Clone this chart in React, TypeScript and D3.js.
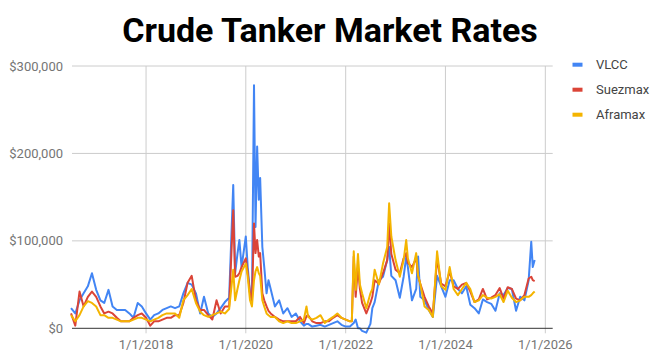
import React from "react";
import * as d3 from "d3";

const dates = [
  "2016-07-01","2016-08-01","2016-09-01","2016-10-01","2016-11-01","2016-12-01",
  "2017-01-01","2017-02-01","2017-03-01","2017-04-01","2017-05-01","2017-06-01",
  "2017-07-01","2017-08-01","2017-09-01","2017-10-01","2017-11-01","2017-12-01",
  "2018-01-01","2018-02-01","2018-03-01","2018-04-01","2018-05-01","2018-06-01",
  "2018-07-01","2018-08-01","2018-09-01","2018-10-01","2018-11-01","2018-12-01",
  "2019-01-01","2019-02-01","2019-03-01","2019-04-01","2019-05-01","2019-06-01",
  "2019-07-01","2019-08-01","2019-09-01","2019-10-01","2019-10-15","2019-11-01",
  "2019-11-15","2019-12-01","2020-01-01","2020-01-15","2020-02-01","2020-02-15",
  "2020-03-01","2020-03-12","2020-03-24","2020-04-05","2020-04-15","2020-05-01",
  "2020-05-15","2020-06-01","2020-06-15","2020-07-01","2020-08-01","2020-09-01",
  "2020-10-01","2020-11-01","2020-12-01","2021-01-01","2021-02-01","2021-03-01",
  "2021-03-20","2021-04-01","2021-05-01","2021-06-01","2021-07-01","2021-08-01",
  "2021-09-01","2021-10-01","2021-11-01","2021-12-01","2022-01-01","2022-02-01",
  "2022-02-15","2022-03-01","2022-03-15","2022-04-01","2022-04-15","2022-05-01",
  "2022-06-01","2022-07-01","2022-07-15","2022-08-01","2022-09-01","2022-10-01",
  "2022-11-01","2022-11-15","2022-12-01","2023-01-01","2023-02-01","2023-03-01",
  "2023-03-20","2023-04-01","2023-05-01","2023-06-01","2023-06-15","2023-07-01",
  "2023-08-01","2023-09-01","2023-10-01","2023-11-01","2023-12-01","2024-01-01",
  "2024-02-01","2024-03-01","2024-04-01","2024-05-01","2024-06-01","2024-07-01",
  "2024-08-01","2024-09-01","2024-10-01","2024-11-01","2024-12-01","2025-01-01",
  "2025-02-01","2025-03-01","2025-04-01","2025-05-01","2025-06-01","2025-07-01",
  "2025-08-01","2025-09-01","2025-09-20","2025-10-01","2025-10-15",
];

// values in thousands of USD/day
const vlcc = [
  23,17,32,40,48,63,
  44,32,29,44,25,21,
  21,21,17,12,29,25,
  17,10,15,17,21,23,
  25,23,25,40,52,50,
  40,17,36,17,13,17,
  23,30,35,164,63,85,
  101,70,105,70,40,32,
  278,116,208,147,172,93,
  70,40,55,45,25,32,
  17,23,13,17,8,3,
  5,5,2,3,4,2,
  4,6,8,4,2,2,
  4,6,10,0,0,-3,
  -5,5,23,30,55,59,
  78,93,60,55,35,59,
  82,70,32,45,82,36,
  32,21,13,60,48,36,
  55,55,45,40,48,27,
  23,17,33,30,28,20,
  40,38,46,45,20,36,
  32,55,99,70,78,
];

const suezmax = [
  17,3,42,25,36,42,
  36,25,17,19,17,12,
  8,8,8,12,15,17,
  12,3,8,8,10,12,
  12,15,15,29,52,60,
  32,21,21,15,10,32,
  17,25,25,135,59,60,
  63,70,80,63,40,32,
  120,86,101,82,86,40,
  32,25,20,17,13,10,
  8,8,8,8,13,6,
  14,15,8,6,6,8,
  8,12,15,12,10,8,
  8,82,36,70,45,29,
  17,29,36,55,51,63,
  78,120,85,67,63,80,
  86,75,70,80,60,51,
  36,25,17,80,51,48,
  65,48,45,50,52,42,
  30,33,45,33,35,38,
  46,34,47,45,34,32,
  38,57,59,55,54,
];

const aframax = [
  15,8,15,25,31,29,
  25,15,15,12,12,10,
  8,8,8,10,12,12,
  10,8,10,12,15,17,
  17,17,12,32,38,45,
  29,19,15,13,15,17,
  19,17,22,67,32,45,
  55,65,74,59,32,25,
  55,65,70,63,60,32,
  25,17,15,13,13,8,
  6,8,6,6,8,10,
  25,13,10,12,15,6,
  10,13,17,12,10,8,
  8,88,44,85,50,40,
  23,40,45,67,50,74,
  93,143,105,78,59,78,
  101,80,63,86,60,51,
  25,21,13,88,48,44,
  70,45,38,45,52,45,
  30,32,38,35,34,36,
  39,30,43,35,30,32,
  36,36,38,40,42,
];

const seriesNames = ["VLCC", "Suezmax", "Aframax"];
const seriesColors = ["#4285F4", "#DB4437", "#F4B400"];
const yTicks = [0, 100000, 200000, 300000];
const xTickYears = [2018, 2020, 2022, 2024, 2026];

const W = 660;
const H = 358;
const L = 72;
const R = 552.7;
const T = 66;
const B = 328.3;

export default function App() {
  const parse = d3.timeParse("%Y-%m-%d");
  const ds = dates.map((d) => parse(d) as Date);
  const x = d3
    .scaleTime()
    .domain([new Date(2016, 6, 8), new Date(2026, 1, 24)])
    .range([L, R]);
  const y = d3.scaleLinear().domain([0, 300000]).range([B, T]);
  const fmt = (v: number) => "$" + d3.format(",")(v);
  const all = [vlcc, suezmax, aframax];
  const line = d3
    .line<[Date, number]>()
    .x((d) => x(d[0]))
    .y((d) => y(d[1] * 1000));

  const font = "Roboto, Arial, sans-serif";

  return (
    <svg width={W} height={H} style={{ position: "absolute", left: 0, top: 0, background: "#fff" }}>
      <rect x={0} y={0} width={W} height={H} fill="#fff" />
      <text
        x={330}
        y={42}
        textAnchor="middle"
        fontFamily={font}
        fontWeight={700}
        fontSize={34}
        fill="#000"
      >
        Crude Tanker Market Rates
      </text>
      {/* horizontal gridlines */}
      {yTicks.map((t) => (
        <line key={"gy" + t} x1={L} x2={R} y1={y(t)} y2={y(t)} stroke={t === 0 ? "none" : "#cccccc"} strokeWidth={1} />
      ))}
      {/* vertical gridlines */}
      {xTickYears.map((yr) => {
        const px = x(new Date(yr, 0, 1));
        return <line key={"gx" + yr} x1={px} x2={px} y1={T} y2={B + 5} stroke="#cccccc" strokeWidth={1} />;
      })}
      {/* y labels */}
      {yTicks.map((t) => (
        <text key={"ly" + t} x={63} y={y(t) + 4.5} textAnchor="end" fontFamily={font} fontSize={13} fill="#757575">
          {fmt(t)}
        </text>
      ))}
      {/* x labels */}
      {xTickYears.map((yr) => (
        <text key={"lx" + yr} x={x(new Date(yr, 0, 1))} y={349} textAnchor="middle" fontFamily={font} fontSize={13} fill="#757575">
          {"1/1/" + yr}
        </text>
      ))}
      {/* series */}
      {all.map((vals, i) => (
        <path
          key={seriesNames[i]}
          d={line(ds.map((d, j) => [d, vals[j]] as [Date, number])) || ""}
          fill="none"
          stroke={seriesColors[i]}
          strokeWidth={2}
          strokeLinejoin="round"
        />
      ))}
      {/* baseline */}
      <line x1={L} x2={R} y1={y(0)} y2={y(0)} stroke="#333333" strokeWidth={1} />
      {/* legend */}
      {seriesNames.map((n, i) => (
        <g key={"lg" + n} transform={`translate(0, ${64.7 + i * 25})`}>
          <rect x={572.5} y={-2} width={10} height={4} fill={seriesColors[i]} />
          <text x={596} y={4.5} fontFamily={font} fontSize={13} fill="#444">
            {n}
          </text>
        </g>
      ))}
    </svg>
  );
}
